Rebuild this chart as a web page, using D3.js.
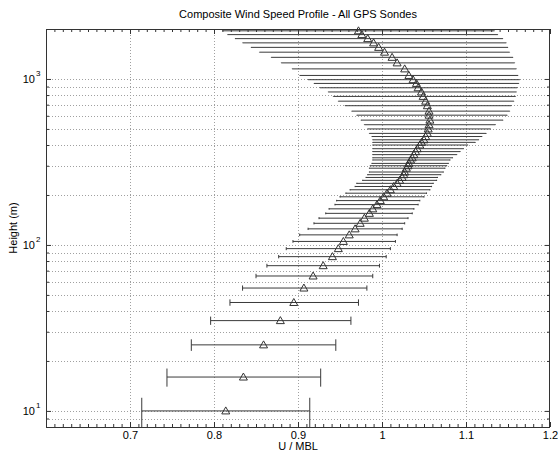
<!DOCTYPE html>
<html>
<head>
<meta charset="utf-8">
<script src="https://cdn.jsdelivr.net/npm/d3@7"></script>
<style>
  html, body { margin: 0; padding: 0; background: #fff; }
  svg { display: block; font-family: "Liberation Sans", Arial, Helvetica, sans-serif; }
</style>
</head>
<body>
<svg id="chart" width="558" height="457"></svg>
<script>
// ---- data ----
const heights = [1950, 1850, 1750, 1650, 1550, 1450, 1350, 1250, 1150, 1050,
  990, 940, 885, 835, 785, 735, 690, 640, 605, 565,
  530, 500, 470, 450, 430, 415, 400, 380, 365, 350,
  335, 325, 310, 300, 290, 275, 265, 255, 245, 235,
  225, 215, 205, 195, 185, 175, 165, 155, 145, 135,
  125, 115, 105, 95, 85, 75, 65, 55, 45, 35,
  25, 16, 10];
const meanU = [0.972, 0.976, 0.983, 0.990, 0.996, 1.003, 1.012, 1.018, 1.027, 1.032,
  1.037, 1.041, 1.043, 1.047, 1.049, 1.052, 1.054, 1.056, 1.056, 1.057,
  1.056, 1.055, 1.054, 1.052, 1.050, 1.047, 1.045, 1.042, 1.040, 1.038,
  1.036, 1.034, 1.032, 1.031, 1.029, 1.027, 1.026, 1.024, 1.021, 1.018,
  1.014, 1.010, 1.006, 1.002, 0.998, 0.994, 0.989, 0.985, 0.979, 0.974,
  0.968, 0.961, 0.954, 0.948, 0.941, 0.930, 0.918, 0.907, 0.895, 0.879,
  0.859, 0.835, 0.814];
const lowU = [0.810, 0.816, 0.825, 0.834, 0.844, 0.854, 0.868, 0.880, 0.893, 0.902,
  0.912, 0.919, 0.926, 0.936, 0.942, 0.948, 0.956, 0.964, 0.970, 0.975,
  0.979, 0.983, 0.985, 0.988, 0.989, 0.989, 0.989, 0.989, 0.989, 0.989,
  0.989, 0.989, 0.988, 0.986, 0.985, 0.985, 0.983, 0.981, 0.977, 0.970,
  0.968, 0.962, 0.957, 0.950, 0.946, 0.944, 0.937, 0.933, 0.925, 0.919,
  0.912, 0.902, 0.894, 0.886, 0.877, 0.863, 0.850, 0.834, 0.819, 0.796,
  0.773, 0.744, 0.714];
const highU = [1.134, 1.138, 1.144, 1.148, 1.150, 1.152, 1.156, 1.158, 1.160, 1.162,
  1.164, 1.163, 1.161, 1.160, 1.159, 1.157, 1.154, 1.152, 1.149, 1.144,
  1.135, 1.129, 1.124, 1.119, 1.115, 1.111, 1.102, 1.097, 1.093, 1.089,
  1.084, 1.081, 1.079, 1.077, 1.075, 1.073, 1.070, 1.066, 1.065, 1.061,
  1.059, 1.057, 1.053, 1.050, 1.045, 1.043, 1.038, 1.036, 1.031, 1.027,
  1.024, 1.018, 1.016, 1.010, 1.005, 0.997, 0.989, 0.982, 0.972, 0.963,
  0.945, 0.927, 0.914];
const xTickValues = [0.7, 0.8, 0.9, 1.0, 1.1, 1.2];
const xTickLabels = ["0.7", "0.8", "0.9", "1", "1.1", "1.2"];
const yTickValues = [10, 100, 1000];
const yTickExponents = ["1", "2", "3"];
const titleText = "Composite Wind Speed Profile - All GPS Sondes";
const xLabelText = "U / MBL";
const yLabelText = "Height (m)";

// ---- layout ----
const L = 46, R = 550, T = 29, B = 427;
const svg = d3.select("#chart");
const x = d3.scaleLinear().domain([0.6, 1.2]).range([L, R]);
const y = d3.scaleLog().domain([8, 2000]).range([B, T]);

svg.append("rect").attr("x", 0).attr("y", 0).attr("width", 558).attr("height", 457).attr("fill", "#fff");

// grid
const yGrid = [];
for (let e = 0; e <= 3; e++) for (let m = 1; m <= 9; m++) {
  const v = m * Math.pow(10, e);
  if (v > 8 && v < 2000) yGrid.push(v);
}
const xGrid = [0.7, 0.8, 0.9, 1.0, 1.1];
const grid = svg.append("g").attr("stroke", "#a0a0a0").attr("stroke-width", 1).attr("stroke-dasharray", "1,2");
grid.selectAll("line.gy").data(yGrid).join("line")
  .attr("x1", L).attr("x2", R)
  .attr("y1", d => Math.round(y(d)) + 0.5).attr("y2", d => Math.round(y(d)) + 0.5);
grid.selectAll("line.gx").data(xGrid).join("line")
  .attr("y1", T).attr("y2", B)
  .attr("x1", d => Math.round(x(d)) + 0.5).attr("x2", d => Math.round(x(d)) + 0.5);

// ticks (inward) on all four sides
const xMinor = d3.range(61).map(i => 0.6 + i * 0.01).filter(v => !xTickValues.some(t => Math.abs(t - v) < 1e-6));
const yMinor = yGrid.filter(v => !yTickValues.includes(v));
const tickCol = "#333";
function addAxis(axis, tx, ty) {
  const g = svg.append("g").attr("transform", `translate(${tx},${ty})`).call(axis);
  g.select(".domain").remove();
  g.selectAll(".tick line").attr("stroke", tickCol);
  return g;
}
addAxis(d3.axisBottom(x).tickValues(xMinor).tickSize(-3).tickFormat(""), 0, B);
addAxis(d3.axisTop(x).tickValues(xMinor).tickSize(-3).tickFormat(""), 0, T);
addAxis(d3.axisTop(x).tickValues(xTickValues).tickSize(-5).tickFormat(""), 0, T);
const xb = addAxis(d3.axisBottom(x).tickValues(xTickValues).tickSize(-5).tickPadding(4)
  .tickFormat((d, i) => xTickLabels[i]), 0, B);
xb.selectAll("text").attr("font-size", 11).attr("fill", "#000").attr("font-family", "Liberation Sans, Arial, sans-serif");
addAxis(d3.axisLeft(y).tickValues(yMinor).tickSize(-3).tickFormat(""), L, 0);
addAxis(d3.axisRight(y).tickValues(yMinor).tickSize(-3).tickFormat(""), R, 0);
addAxis(d3.axisLeft(y).tickValues(yTickValues).tickSize(-5).tickFormat(""), L, 0);
addAxis(d3.axisRight(y).tickValues(yTickValues).tickSize(-5).tickFormat(""), R, 0);

// frame
svg.append("rect").attr("x", L + 0.5).attr("y", T + 0.5).attr("width", R - L - 1).attr("height", B - T)
  .attr("fill", "none").attr("stroke", "#333").attr("stroke-width", 1);

// y tick labels 10^n
const yl = svg.append("g").attr("fill", "#000");
yTickValues.forEach((v, i) => {
  const t = yl.append("text").attr("x", 35).attr("y", y(v) + 4).attr("text-anchor", "end").attr("font-size", 11).text("10");
  yl.append("text").attr("x", 36).attr("y", y(v) - 3).attr("font-size", 8).text(yTickExponents[i]);
});

// data
const data = heights.map((h, i) => ({ h, m: meanU[i], lo: lowU[i], hi: highU[i] }));
const bars = svg.append("g").attr("stroke", "#3a3a3a").attr("stroke-width", 1).attr("fill", "none");
bars.selectAll("line.bar").data(data).join("line")
  .attr("x1", d => x(d.lo)).attr("x2", d => x(d.hi))
  .attr("y1", d => y(d.h)).attr("y2", d => y(d.h));
const capHalf = 2;
bars.selectAll("line.capl").data(data).join("line")
  .attr("x1", d => x(d.lo)).attr("x2", d => x(d.lo))
  .attr("y1", d => Math.min(B, y(d.h - capHalf))).attr("y2", d => y(d.h + capHalf));
bars.selectAll("line.caph").data(data).join("line")
  .attr("x1", d => x(d.hi)).attr("x2", d => x(d.hi))
  .attr("y1", d => Math.min(B, y(d.h - capHalf))).attr("y2", d => y(d.h + capHalf));

svg.append("g").attr("stroke", "#333").attr("stroke-width", 1).attr("fill", "none")
  .selectAll("path").data(data).join("path")
  .attr("d", d => {
    const cx = x(d.m), cy = y(d.h);
    return `M${cx},${cy - 4}L${cx + 4},${cy + 3}L${cx - 4},${cy + 3}Z`;
  });

// titles
svg.append("text").attr("x", 298).attr("y", 18).attr("text-anchor", "middle").attr("font-size", 11).attr("fill", "#000").text(titleText);
svg.append("text").attr("x", 298).attr("y", 450).attr("text-anchor", "middle").attr("font-size", 11).attr("fill", "#000").text(xLabelText);
svg.append("text").attr("transform", "translate(17,228) rotate(-90)").attr("text-anchor", "middle").attr("font-size", 11).attr("fill", "#000").text(yLabelText);
</script>
</body>
</html>
